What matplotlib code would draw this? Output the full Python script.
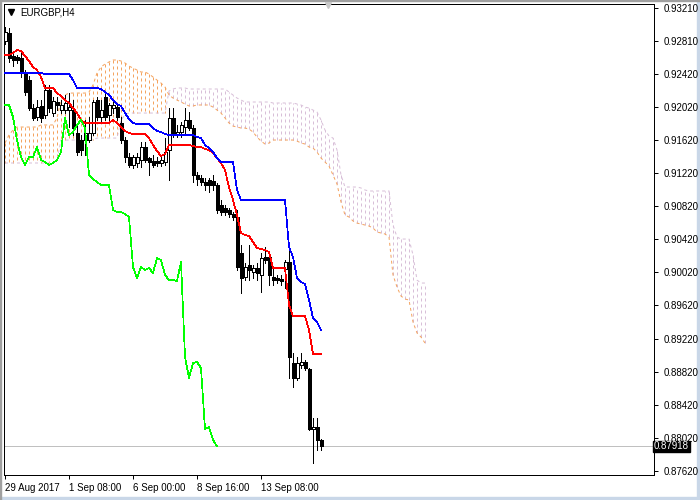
import numpy as np
import matplotlib.pyplot as plt
from matplotlib.patches import Rectangle

plt.rcParams['font.family'] = ['Liberation Sans', 'DejaVu Sans']

# EURGBP H4 candles (80 bars)
opens = [0.92812, 0.92909, 0.92631, 0.92619, 0.92607, 0.92426, 0.92341, 0.92003, 0.91895, 0.92028,
         0.91919, 0.92221, 0.91943, 0.92076, 0.91979, 0.91979, 0.91979, 0.91979, 0.91702, 0.91617,
         0.91617, 0.91617, 0.91702, 0.92100, 0.91895, 0.92136, 0.91919, 0.92003, 0.92015, 0.91823,
         0.91617, 0.91412, 0.91316, 0.91340, 0.91376, 0.91533, 0.91400, 0.91364, 0.91364, 0.91340,
         0.91352, 0.91497, 0.91883, 0.91678, 0.91714, 0.91774, 0.91859, 0.91762, 0.91195, 0.91159,
         0.91110, 0.91134, 0.91122, 0.91074, 0.90833, 0.90796, 0.90772, 0.90724, 0.90688, 0.90253,
         0.89964, 0.90108, 0.90024, 0.90072, 0.89988, 0.90205, 0.90205, 0.89964, 0.89952, 0.89940,
         0.90060, 0.90144, 0.88926, 0.88744, 0.88901, 0.88938, 0.88853, 0.88129, 0.88153, 0.87996]
highs = [0.92981, 0.92969, 0.92667, 0.92643, 0.92667, 0.92462, 0.92390, 0.92052, 0.92100, 0.92100,
         0.92281, 0.92281, 0.92136, 0.92136, 0.92100, 0.92160, 0.92184, 0.92100, 0.91823, 0.91678,
         0.91859, 0.91895, 0.92100, 0.92136, 0.92100, 0.92184, 0.92064, 0.92076, 0.92064, 0.91895,
         0.91653, 0.91460, 0.91436, 0.91460, 0.91593, 0.91593, 0.91412, 0.91436, 0.91412, 0.91412,
         0.91641, 0.92003, 0.92003, 0.91799, 0.91835, 0.92003, 0.91955, 0.91799, 0.91231, 0.91195,
         0.91159, 0.91159, 0.91195, 0.91098, 0.90893, 0.90833, 0.90796, 0.90748, 0.90772, 0.90350,
         0.90132, 0.90350, 0.90108, 0.90132, 0.90253, 0.90326, 0.90253, 0.90084, 0.89988, 0.89988,
         0.90169, 0.90290, 0.89046, 0.88998, 0.89046, 0.88962, 0.88865, 0.88262, 0.88262, 0.88008]
lows = [0.92776, 0.92559, 0.92510, 0.92547, 0.92378, 0.92160, 0.91979, 0.91859, 0.91859, 0.91835,
        0.91883, 0.91955, 0.91907, 0.91979, 0.91943, 0.91943, 0.91774, 0.91678, 0.91436, 0.91436,
        0.91436, 0.91593, 0.91678, 0.91859, 0.91835, 0.91859, 0.91859, 0.91943, 0.91859, 0.91581,
        0.91352, 0.91291, 0.91279, 0.91291, 0.91291, 0.91352, 0.91195, 0.91291, 0.91303, 0.91303,
        0.91316, 0.91134, 0.91653, 0.91653, 0.91653, 0.91702, 0.91738, 0.91110, 0.91074, 0.91074,
        0.91014, 0.90990, 0.91014, 0.90736, 0.90712, 0.90712, 0.90688, 0.90653, 0.90048, 0.89771,
        0.89927, 0.89927, 0.89952, 0.89927, 0.89783, 0.90132, 0.89867, 0.89867, 0.89891, 0.89867,
        0.89831, 0.88744, 0.88636, 0.88720, 0.88865, 0.88841, 0.88117, 0.87719, 0.87876, 0.87876]
closes = [0.92921, 0.92607, 0.92583, 0.92583, 0.92426, 0.92197, 0.92003, 0.91883, 0.92015, 0.91883,
          0.92221, 0.92003, 0.92088, 0.92040, 0.92040, 0.92064, 0.92015, 0.91762, 0.91472, 0.91497,
          0.91702, 0.91702, 0.92076, 0.91895, 0.91979, 0.91895, 0.92040, 0.92040, 0.91895, 0.91617,
          0.91412, 0.91316, 0.91412, 0.91412, 0.91533, 0.91376, 0.91352, 0.91316, 0.91340, 0.91376,
          0.91472, 0.91883, 0.91678, 0.91714, 0.91799, 0.91859, 0.91762, 0.91195, 0.91147, 0.91110,
          0.91074, 0.91074, 0.91074, 0.90772, 0.90748, 0.90748, 0.90724, 0.90688, 0.90084, 0.89952,
          0.90084, 0.90048, 0.90072, 0.90012, 0.90193, 0.90169, 0.89988, 0.89927, 0.89927, 0.89915,
          0.90144, 0.88998, 0.88744, 0.88926, 0.88938, 0.88865, 0.88129, 0.88153, 0.87996, 0.87918]

# Ichimoku lines
tenkan = [0.92643, 0.92643, 0.92667, 0.92704, 0.92691, 0.92631, 0.92571, 0.92498, 0.92462, 0.92378,
          0.92245, 0.92245, 0.92245, 0.92184, 0.92148, 0.92100, 0.92064, 0.92003, 0.91943, 0.91859,
          0.91823, 0.91823, 0.91823, 0.91823, 0.91823, 0.91823, 0.91823, 0.91859, 0.91823, 0.91774,
          0.91726, 0.91702, 0.91690, 0.91690, 0.91690, 0.91690, 0.91641, 0.91557, 0.91484, 0.91424,
          0.91448, 0.91557, 0.91557, 0.91557, 0.91557, 0.91557, 0.91557, 0.91545, 0.91533, 0.91533,
          0.91509, 0.91497, 0.91460, 0.91400, 0.91340, 0.91255, 0.91050, 0.90893, 0.90712, 0.90495,
          0.90471, 0.90458, 0.90386, 0.90314, 0.90302, 0.90290, 0.90265, 0.90072, 0.90072, 0.90072,
          0.90072, 0.89626, 0.89493, 0.89493, 0.89493, 0.89493, 0.89324, 0.89034, 0.89034, 0.89034]
kijun = [0.92426, 0.92426, 0.92426, 0.92426, 0.92426, 0.92426, 0.92426, 0.92426, 0.92426, 0.92426,
         0.92414, 0.92414, 0.92414, 0.92414, 0.92414, 0.92414, 0.92414, 0.92341, 0.92245, 0.92245,
         0.92245, 0.92245, 0.92245, 0.92245, 0.92233, 0.92197, 0.92160, 0.92100, 0.92052, 0.92028,
         0.91943, 0.91871, 0.91823, 0.91810, 0.91810, 0.91810, 0.91810, 0.91762, 0.91726, 0.91714,
         0.91690, 0.91678, 0.91678, 0.91678, 0.91678, 0.91678, 0.91678, 0.91678, 0.91653, 0.91641,
         0.91557, 0.91521, 0.91472, 0.91400, 0.91352, 0.91352, 0.91352, 0.91352, 0.91014, 0.90893,
         0.90893, 0.90893, 0.90893, 0.90893, 0.90893, 0.90893, 0.90893, 0.90893, 0.90893, 0.90893,
         0.90893, 0.90326, 0.90205, 0.89952, 0.89903, 0.89879, 0.89686, 0.89469, 0.89420, 0.89324]
# senkou spans run 26 bars past the last candle (106 values)
span_a = [0.91581, 0.91678, 0.91738, 0.91774, 0.91774, 0.91774, 0.91774, 0.91774, 0.91774, 0.91799,
          0.91799, 0.91799, 0.91799, 0.91883, 0.92100, 0.92160, 0.92184, 0.92184, 0.92184, 0.92184,
          0.92184, 0.92197, 0.92281, 0.92426, 0.92498, 0.92535, 0.92559, 0.92583, 0.92583, 0.92571,
          0.92547, 0.92510, 0.92486, 0.92462, 0.92438, 0.92438, 0.92414, 0.92378, 0.92341, 0.92305,
          0.92257, 0.92160, 0.92124, 0.92100, 0.92076, 0.92052, 0.92028, 0.92028, 0.92040, 0.92040,
          0.92040, 0.92040, 0.92015, 0.91979, 0.91943, 0.91883, 0.91823, 0.91786, 0.91774, 0.91762,
          0.91762, 0.91750, 0.91714, 0.91653, 0.91605, 0.91569, 0.91581, 0.91617, 0.91617, 0.91617,
          0.91617, 0.91617, 0.91617, 0.91605, 0.91581, 0.91569, 0.91533, 0.91521, 0.91472, 0.91400,
          0.91352, 0.91303, 0.91195, 0.91086, 0.90869, 0.90712, 0.90688, 0.90640, 0.90615, 0.90603,
          0.90591, 0.90579, 0.90555, 0.90507, 0.90495, 0.90483, 0.90446, 0.89988, 0.89843, 0.89734,
          0.89698, 0.89686, 0.89420, 0.89288, 0.89239, 0.89167]
span_b = [0.91340, 0.91340, 0.91340, 0.91340, 0.91340, 0.91340, 0.91340, 0.91340, 0.91340, 0.91340,
          0.91340, 0.91340, 0.91340, 0.91376, 0.91617, 0.91617, 0.91617, 0.91617, 0.91617, 0.91617,
          0.91617, 0.91617, 0.91617, 0.91641, 0.91641, 0.91641, 0.91641, 0.91641, 0.91641, 0.91859,
          0.91919, 0.91943, 0.91943, 0.91943, 0.91943, 0.91943, 0.91943, 0.91943, 0.91943, 0.91943,
          0.91943, 0.92209, 0.92233, 0.92245, 0.92245, 0.92245, 0.92233, 0.92233, 0.92233, 0.92233,
          0.92233, 0.92233, 0.92233, 0.92233, 0.92233, 0.92233, 0.92197, 0.92160, 0.92124, 0.92100,
          0.92076, 0.92076, 0.92076, 0.92076, 0.92076, 0.92076, 0.92076, 0.92064, 0.92064, 0.92064,
          0.92064, 0.92064, 0.92064, 0.92052, 0.92040, 0.92015, 0.92003, 0.91979, 0.91955, 0.91859,
          0.91738, 0.91665, 0.91641, 0.91497, 0.91195, 0.91050, 0.91050, 0.91050, 0.91050, 0.91038,
          0.91014, 0.91002, 0.91002, 0.91002, 0.91002, 0.91002, 0.91002, 0.90591, 0.90446, 0.90422,
          0.90422, 0.90422, 0.90229, 0.89927, 0.89891, 0.89891]

price_ticks = [0.93210, 0.92810, 0.92420, 0.92020, 0.91620, 0.91220, 0.90820,
               0.90420, 0.90020, 0.89620, 0.89220, 0.88820, 0.88420, 0.88020, 0.87620]
time_ticks = [0, 16, 32, 48, 64]
time_labels = ['29 Aug 2017', '1 Sep 08:00', '6 Sep 00:00', '8 Sep 16:00', '13 Sep 08:00']
last_price = 0.87918

o = np.array(opens)
h = np.array(highs)
l = np.array(lows)
c = np.array(closes)
a = np.array(span_a)
b = np.array(span_b)
x = np.arange(len(c))
xc = np.arange(len(a))

fig = plt.figure(figsize=(7, 5), dpi=100)
ax = fig.add_axes([4 / 700, 25 / 500, 650 / 700, 471 / 500])

px = 0.72  # one pixel in points
dots = (0, (3, 3))

# kumo: dotted vertical hatch between the spans
up = a >= b
ax.vlines(xc[up], a[up], b[up], color='#F4A460', lw=px, linestyle=dots, zorder=1)
ax.vlines(xc[~up], a[~up], b[~up], color='#D8BFD8', lw=px, linestyle=dots, zorder=1)
ax.plot(xc, a, color='#F4A460', lw=px, linestyle=dots, zorder=1.5)
ax.plot(xc, b, color='#D8BFD8', lw=px, linestyle=dots, zorder=1.5)

# candles
ax.vlines(x, l, h, color='black', lw=px, antialiased=False, zorder=3)
body_lo = np.minimum(o, c)
body_h = np.abs(c - o)
face = np.where(c >= o, 'white', 'black')
ax.bar(x, body_h, bottom=body_lo, width=0.75, color=face, edgecolor='black',
       linewidth=px, antialiased=False, zorder=4)

# tenkan, kijun, chikou
ax.plot(x, tenkan, color='red', lw=0.5, antialiased=False, zorder=5)
ax.plot(x, kijun, color='blue', lw=0.5, antialiased=False, zorder=5)
ax.plot(x[26:] - 26, c[26:], color='#00FF00', lw=0.5, antialiased=False, zorder=5)

# last price line
ax.axhline(last_price, color='#C0C0C0', lw=px, zorder=0.5)

ax.set_xlim(-0.25, 162.25)
ax.set_ylim(0.87574, 0.93259)

ax.yaxis.tick_right()
ax.set_yticks(price_ticks)
ax.set_yticklabels(['%.5f' % p for p in price_ticks])
ax.set_xticks(time_ticks)
ax.set_xticklabels(time_labels, ha='left')
ax.tick_params(axis='both', direction='out', length=3, width=px, labelsize=7, colors='black')
ax.tick_params(axis='y', pad=4)
ax.tick_params(axis='x', pad=3)
for s in ax.spines.values():
    s.set_linewidth(px)
    s.set_color('black')

ax.text(1.0, last_price, '%.5f' % last_price, transform=ax.get_yaxis_transform(),
        ha='left', va='center', fontsize=7, color='white', zorder=10,
        bbox=dict(boxstyle='square,pad=0.1', facecolor='black', edgecolor='black'))

# symbol caption with the drop-down arrow
fig.text(20 / 700, 1 - 12.5 / 500, 'EURGBP,H4', fontsize=7, ha='left', va='center')
fig.add_artist(plt.Line2D([11 / 700], [1 - 12 / 500], marker='v', markersize=4,
                          color='black', transform=fig.transFigure))
fig.add_artist(plt.Line2D([328 / 700], [1 - 5 / 500], marker='v', markersize=5,
                          color='#C8C8C8', transform=fig.transFigure))

# window frame
fig.add_artist(Rectangle((0, 0), 1, 3 / 500, transform=fig.transFigure, color='#C9D7E8', zorder=0))
fig.add_artist(Rectangle((697 / 700, 0), 3 / 700, 1, transform=fig.transFigure, color='#C9D7E8', zorder=0))
fig.add_artist(Rectangle((0, 499 / 500), 1, 1 / 500, transform=fig.transFigure, color='#A0A0A0', zorder=0))
fig.add_artist(Rectangle((0, 0), 1 / 700, 1, transform=fig.transFigure, color='#A0A0A0', zorder=0))

plt.savefig('out.png', dpi=100)
